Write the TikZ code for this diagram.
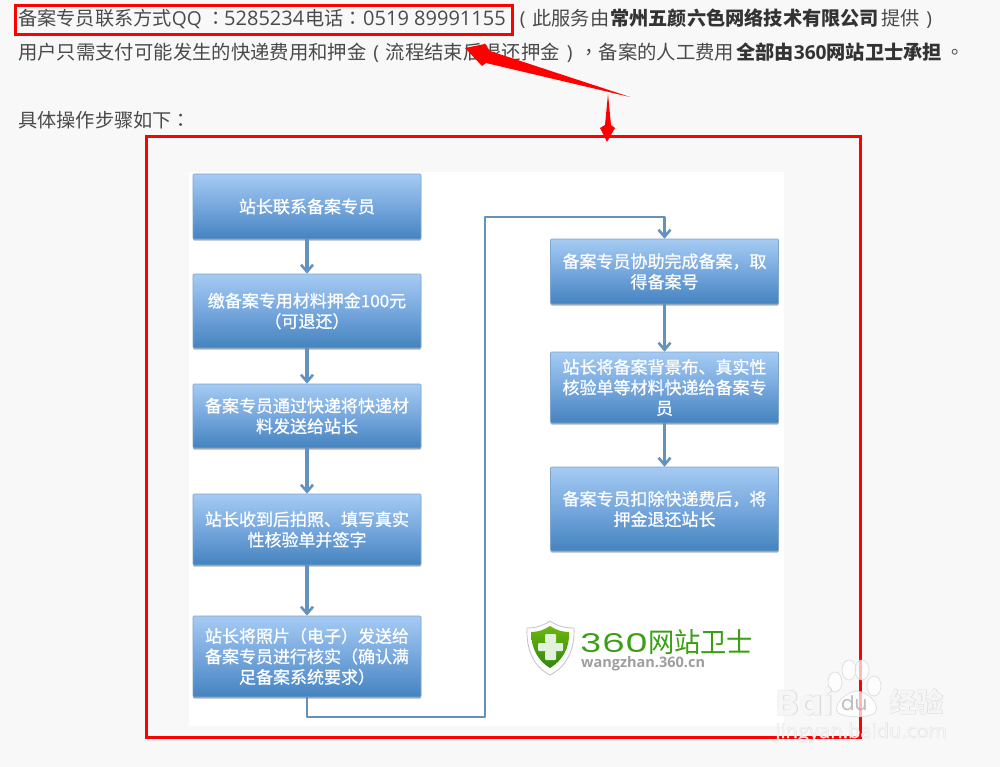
\documentclass[tikz,border=0pt]{standalone}
\usepackage{fontspec}
\setmainfont{Noto Sans CJK SC}
\newfontfamily\tcf{Noto Sans CJK TC}
\newfontfamily\latf{Open Sans}
\newfontfamily\polat{Poppins}
\newfontfamily\boxcjk[FakeBold=.7]{Noto Sans CJK SC}
\newfontfamily\wmoutlat[BoldFeatures={FakeBold=2.5}]{Poppins}
\newfontfamily\wmoutcjk[BoldFeatures={FakeBold=2.5}]{Noto Sans CJK SC}
\newfontfamily\wmoutopen[FakeBold=2.5]{Open Sans}
\usetikzlibrary{arrows.meta,shadows}
\definecolor{pagebg}{HTML}{F8F8F8}
\definecolor{txt}{HTML}{4A4A4A}
\definecolor{flowline}{HTML}{6392BF}
\definecolor{boxedge}{HTML}{7FA6CE}
\definecolor{logogreen}{HTML}{3A9F12}
\definecolor{flowtop}{HTML}{A5CBF3}
\definecolor{flowmid}{HTML}{76A7DD}
\definecolor{flowbottom}{HTML}{4483BF}
\definecolor{wmedge}{HTML}{D6D6D6}
\newcommand{\la}[1]{{\latf #1}}
\newcommand{\pu}[1]{{\tcf #1}}
\newcommand{\cellp}[1]{\makebox[1em]{\latf #1}}
\newcommand{\wmtext}[3]{\rlap{\color{wmedge}#1 #3}{\color{white}#2 #3}}
\tikzset{
  x=1pt,y=-1pt,
  line/.style={anchor=base west,inner sep=0pt,text=txt,font=\fontsize{19.2}{19.2}\selectfont},
  wideline/.style={line,font=\fontsize{19.35}{19.35}\selectfont},
  boldline/.style={line,font=\fontsize{19.2}{19.2}\selectfont\bfseries,text=black!80},
  digits/.style={line,font=\latf\fontsize{20}{20}\selectfont},
  flowbox/.style={draw=boxedge,line width=.6pt,rounded corners=1pt,minimum width=228pt,
    top color=flowtop,bottom color=flowbottom,middle color=flowmid,
    text=white,align=center,inner sep=0pt,font=\boxcjk\fontsize{17}{20.5}\selectfont,
    execute at begin node={\vspace*{3pt}},
    drop shadow={shadow xshift=0pt,shadow yshift=-1.5pt,opacity=.3,fill=black}},
  flowconn/.style={draw=flowline,line width=3.4pt,-{Straight Barb[length=7pt,width=12pt,line width=2.6pt]}},
  longconn/.style={flowconn,line width=2.9pt},
  redbox/.style={draw=red,line width=3pt,fill=none},
  wm/.style={inner sep=0pt,anchor=base west,opacity=.72},
}
\begin{document}
\begin{tikzpicture}
\useasboundingbox (0,0) rectangle (1000,767);
\fill[pagebg] (0,0) rectangle (1000,767);
% text
\node[line] (l1a) at (18,26) {备案专员联系方式\la{QQ}};
\node[line] (l1col) at (206,26) {\pu{：}};
\node[digits] (l1n) at (224,26) {5285234};
\node[line] (l1t) at (305,26) {电话\pu{：}};
\node[digits] (l1p) at (363,26) {0519};
\node[digits] (l1q) at (414,26) {89991155};
\node[line] (l1b) at (513,26) {\cellp{(}此服务由};
\node[boldline] (l1c) at (610,26) {常州五颜六色网络技术有限公司};
\node[line] (l1d) at (881,26) {提供\cellp{)}};
\node[wideline] (l2a) at (18,60) {用户只需支付可能发生的快递费用和押金\cellp{(}流程结束后退还押金\cellp{)}\pu{，}备案的人工费用};
\node[boldline] (l2b) at (736,60) {全部由\la{360}网站卫士承担};
\node[line] (l2c) at (945,60) {\pu{。}};
\node[line] (l3) at (18,128) {具体操作步骤如下\pu{：}};
% panel
\fill[white] (189,172) rectangle (784,726);
% boxes
\node[flowbox,minimum height=65pt] (b1) at (307,206.5) {站长联系备案专员};
\node[flowbox,minimum height=74pt] (b2) at (307,311) {缴备案专用材料押金100元\\（可退还）};
\node[flowbox,minimum height=64pt] (b3) at (307,416) {备案专员通过快递将快递材\\料发送给站长};
\node[flowbox,minimum height=71pt] (b4) at (307,529.5) {站长收到后拍照、填写真实\\性核验单并签字};
\node[flowbox,minimum height=81pt] (b5) at (307,656.5) {站长将照片（电子）发送给\\备案专员进行核实（确认满\\足备案系统要求）};
\node[flowbox,minimum height=65pt] (r1) at (664.5,271.5) {备案专员协助完成备案，取\\得备案号};
\node[flowbox,minimum height=71pt] (r2) at (664.5,387.5) {站长将备案背景布、真实性\\核验单等材料快递给备案专\\员};
\node[flowbox,minimum height=84pt] (r3) at (664.5,509) {备案专员扣除快递费后，将\\押金退还站长};
% connectors
\draw[flowconn] (b1) -- (b2);
\draw[flowconn] (b2) -- (b3);
\draw[flowconn] (b3) -- (b4);
\draw[flowconn] (b4) -- (b5);
\draw[flowconn] (r1) -- (r2);
\draw[flowconn] (r2) -- (r3);
\coordinate (c1) at (307,717);
\coordinate (c2) at (485,717);
\coordinate (c3) at (485,217);
\coordinate (c4) at (664.5,217);
\draw[longconn,line join=round] (b5.south) -- (c1) -- (c2) -- (c3) -- (c4) -- (r1.north);
% logo
\fill[white,draw=black!22,line width=.9pt] (550,621) .. controls (543,626) and (535,628) .. (527,628) .. controls (526,650) and (534,667) .. (550,675) .. controls (566,667) and (575,650) .. (574,628) .. controls (565,628) and (557,626) .. (550,621) -- cycle;
\shade[top color=logogreen!75!yellow,bottom color=logogreen!85!black] (550,626) .. controls (544,630) and (538,632) .. (531,632) .. controls (531,648) and (538,661) .. (550,668) .. controls (562,661) and (570,648) .. (569,632) .. controls (562,632) and (556,630) .. (550,626) -- cycle;
\fill[white!85!logogreen,rounded corners=1pt] (545,634) rectangle (556,643) (538,643) rectangle (563,651) (545,651) rectangle (556,660);
\node[inner sep=0pt,anchor=west,text=logogreen] (logo1) at (580,643) {\resizebox{68pt}{19pt}{\polat 360}};
\node[inner sep=0pt,anchor=west,text=logogreen] (logo2) at (648,642) {\resizebox{105pt}{23pt}{网站卫士}};
\node[inner sep=0pt,anchor=base west,text=black!38,font=\latf\bfseries\fontsize{14.5}{14.5}\selectfont] (logo3) at (581,667) {wangzhan.360.cn};
% red frames
\draw[redbox] (15,6) rectangle (512,35);
\draw[redbox] (146,137) rectangle (860,737);
% red arrows
\fill[red] (465,48) -- (485,44) -- (490,51) -- (630,97) -- (486,63) -- (482,66) -- cycle;
\fill[red] (608,94) -- (611,125) -- (615,128) -- (607,142) -- (600,128) -- (605,125) -- cycle;
% watermark
\begin{scope}[opacity=.72]
\fill[white,draw=wmedge,line width=.8pt] (835,682) ellipse (7 and 10) (849,670) ellipse (7 and 10) (862,670) ellipse (7 and 10) (874,686) ellipse (7 and 10);
\fill[white,draw=wmedge,line width=.8pt] (857,691) .. controls (845,692) and (832,706) .. (838,713) .. controls (846,718) and (868,718) .. (875,713) .. controls (881,704) and (868,692) .. (857,691) -- cycle;
\end{scope}
\node[wm] (wm1) at (768,715) {\resizebox{65pt}{!}{\fontsize{42}{42}\selectfont\bfseries\wmtext{\wmoutlat}{\polat}{Bai}}};
\node[wm,text=black!35,font=\polat\fontsize{20}{20}\selectfont] (wm2) at (841,710) {du};
\node[wm] (wm3) at (883,712) {\resizebox{60pt}{!}{\fontsize{30}{30}\selectfont\bfseries\wmtext{\wmoutcjk}{\rmfamily}{经验}}};
\node[wm] (wm4) at (770,738) {\resizebox{177pt}{!}{\fontsize{20}{20}\selectfont\wmtext{\wmoutopen}{\latf}{jingyan.baidu.com}}};
\end{tikzpicture}
\end{document}
